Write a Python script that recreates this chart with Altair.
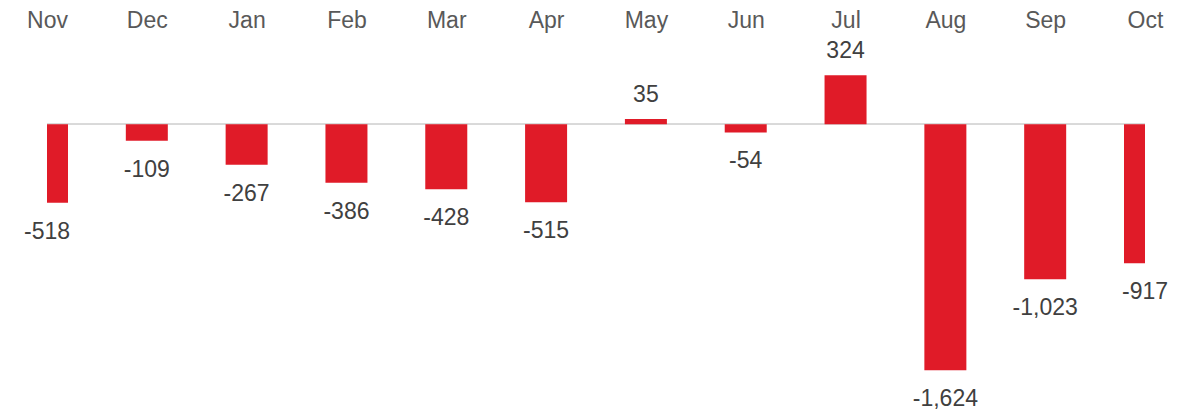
import altair as alt
import pandas as pd

months = ["Nov", "Dec", "Jan", "Feb", "Mar", "Apr", "May", "Jun", "Jul", "Aug", "Sep", "Oct"]
values = [-518, -109, -267, -386, -428, -515, 35, -54, 324, -1624, -1023, -917]
labels = [f"{v:,}" for v in values]

df = pd.DataFrame({"month": months, "value": values, "label": labels})

FONT = "Liberation Sans"
x_enc = alt.X("month:N", sort=months,
              scale=alt.Scale(type="point", padding=0),
              axis=alt.Axis(orient="top", title=None, domain=False, ticks=False, tickSize=0,
                            grid=False, labelFont=FONT, labelFontSize=23, labelColor="#595959",
                            labelPadding=14, labelBaseline="alphabetic", labelAngle=0))
y_scale = alt.Scale(domain=[-1800, 550], nice=False, zero=False)

base = alt.Chart(df)

rule = base.mark_rule(color="#d9d9d9", strokeWidth=1.5).encode(
    y=alt.datum(0, scale=y_scale, axis=None)
)

bars = base.mark_bar(color="#E01B28", size=42, clip=True).encode(
    x=x_enc,
    y=alt.Y("value:Q", scale=y_scale, axis=None),
    y2=alt.datum(0),
)

text_neg = base.transform_filter("datum.value < 0").mark_text(
    font=FONT, fontSize=23, color="#404040", baseline="alphabetic", dy=36
).encode(x=x_enc, y=alt.Y("value:Q", scale=y_scale, axis=None), text="label:N")

text_pos = base.transform_filter("datum.value >= 0").mark_text(
    font=FONT, fontSize=23, color="#404040", baseline="alphabetic", dy=-17
).encode(x=x_enc, y=alt.Y("value:Q", scale=y_scale, axis=None), text="label:N")

chart = alt.layer(rule, bars, text_neg, text_pos).properties(
    width=1098, height=356,
    autosize=alt.AutoSizeParams(type="none"),
    padding={"left": 39, "top": 33, "right": 44, "bottom": 20},
).configure_view(stroke=None)

chart.save("out.html", embed_options={"renderer": "svg", "actions": False})
